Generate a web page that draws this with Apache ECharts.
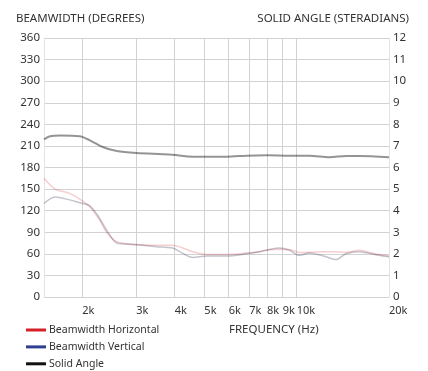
<!DOCTYPE html>
<html><head><meta charset="utf-8">
<script src="https://cdn.jsdelivr.net/npm/echarts@6/dist/echarts.min.js"></script>
<style>html,body{margin:0;padding:0;background:#fff}#c{width:428px;height:371px}</style>
</head><body><div id="c"></div>
<script>
// Frequencies (Hz) and values
const xTicks = [2000,3000,4000,5000,6000,7000,8000,9000,10000,20000];
const leftTicks = [0,30,60,90,120,150,180,210,240,270,300,330,360];

const horizFreq = [1500,1630,1820,2010,2110,2270,2400,2590,3000,3500,3850,4140,4576,5080,5900,6860,7560,8300,9470,10200,11000,12100,13000,14500,16000,17200,18500,20000];
const horizDeg  = [165,150,144,133,126,108,90,77,73,72,72,70,63,59,59,61,63,66,66,62,62,63,63,62,65,62,59,57];

const vertFreq = [1500,1630,1820,1960,2110,2240,2400,2590,2920,3500,3940,4240,4576,5080,5900,6860,7560,8140,8780,9470,10200,11000,12470,13400,14470,15900,17200,18500,20000];
const vertDeg  = [130,139,135,131,127,114,93,75,73,70,68,61,55,57,57,60,63,66,68,65,58,61,56,52,60,63,61,58,56];

const solidFreq = [1500,1570,1700,1960,2110,2330,2590,3000,3850,4600,5900,6860,8000,9500,11000,12800,14500,16000,20000];
const solidSr   = [7.3,7.45,7.48,7.45,7.27,6.95,6.76,6.67,6.6,6.5,6.5,6.55,6.57,6.55,6.55,6.48,6.53,6.53,6.47];

const zip = (a,b) => a.map((v,i)=>[v,b[i]]);
const FONT = 'Noto Sans';
const TXT = '#333';

const chart = echarts.init(document.getElementById('c'), null, {renderer:'canvas'});
chart.setOption({
  animation:false,
  grid:{left:44,right:39,top:38,bottom:74,containLabel:false},
  xAxis:{
    type:'log', logBase:10, min:1500, max:20000,
    axisLine:{show:false}, axisTick:{show:false, customValues:xTicks},
    axisLabel:{customValues:xTicks, formatter:v=>Math.round(v/1000)+'k', color:TXT, fontFamily:FONT, fontSize:11, margin:8, align:'left'},
    splitLine:{show:true, lineStyle:{color:'#d2d2d2', width:1}},
    minorSplitLine:{show:false}
  },
  yAxis:[
    {type:'value', min:0, max:360, interval:30, position:'left',
     axisLine:{show:true, lineStyle:{color:'#e3e3e3'}}, axisTick:{show:false},
     axisLabel:{color:TXT, fontFamily:FONT, fontSize:11.5, margin:4},
     splitLine:{show:true, lineStyle:{color:'#d2d2d2', width:1}}},
    {type:'value', min:0, max:12, interval:1, position:'right',
     axisLine:{show:true, lineStyle:{color:'#e3e3e3'}}, axisTick:{show:false},
     axisLabel:{color:TXT, fontFamily:FONT, fontSize:11.5, margin:4},
     splitLine:{show:false}}
  ],
  legend:{
    orient:'vertical', left:26, top:324, padding:0, itemWidth:20, itemHeight:3, itemGap:4.9, icon:'rect',
    textStyle:{color:TXT, fontFamily:FONT, fontSize:10.5, lineHeight:12, padding:[0,0,0,-2]},
    data:[
      {name:'Beamwidth Horizontal', itemStyle:{color:'#d42027'}},
      {name:'Beamwidth Vertical', itemStyle:{color:'#2e3f8f'}},
      {name:'Solid Angle', itemStyle:{color:'#111'}}
    ]
  },
  series:[
    {name:'Beamwidth Horizontal', type:'line', yAxisIndex:0, showSymbol:false, smooth:0.3,
     data:zip(horizFreq,horizDeg), itemStyle:{color:'#d42027'},
     lineStyle:{color:'rgba(212,32,39,0.22)', width:1.5}},
    {name:'Beamwidth Vertical', type:'line', yAxisIndex:0, showSymbol:false, smooth:0.3,
     data:zip(vertFreq,vertDeg), itemStyle:{color:'#2e3f8f'},
     lineStyle:{color:'rgba(60,60,90,0.3)', width:1.5}},
    {name:'Solid Angle', type:'line', yAxisIndex:1, showSymbol:false, smooth:0.3,
     data:zip(solidFreq,solidSr), itemStyle:{color:'#111'},
     lineStyle:{color:'rgba(0,0,0,0.42)', width:2}}
  ],
  graphic:[
    {type:'text', left:16, top:13, style:{text:'BEAMWIDTH (DEGREES)', fill:TXT, font:'11.5px "Noto Sans"'}},
    {type:'text', right:19, top:13, style:{text:'SOLID ANGLE (STERADIANS)', fill:TXT, font:'11.5px "Noto Sans"'}},
    {type:'text', left:229, top:324, style:{text:'FREQUENCY (Hz)', fill:TXT, font:'11.5px "Noto Sans"'}}
  ]
});
</script></body></html>
